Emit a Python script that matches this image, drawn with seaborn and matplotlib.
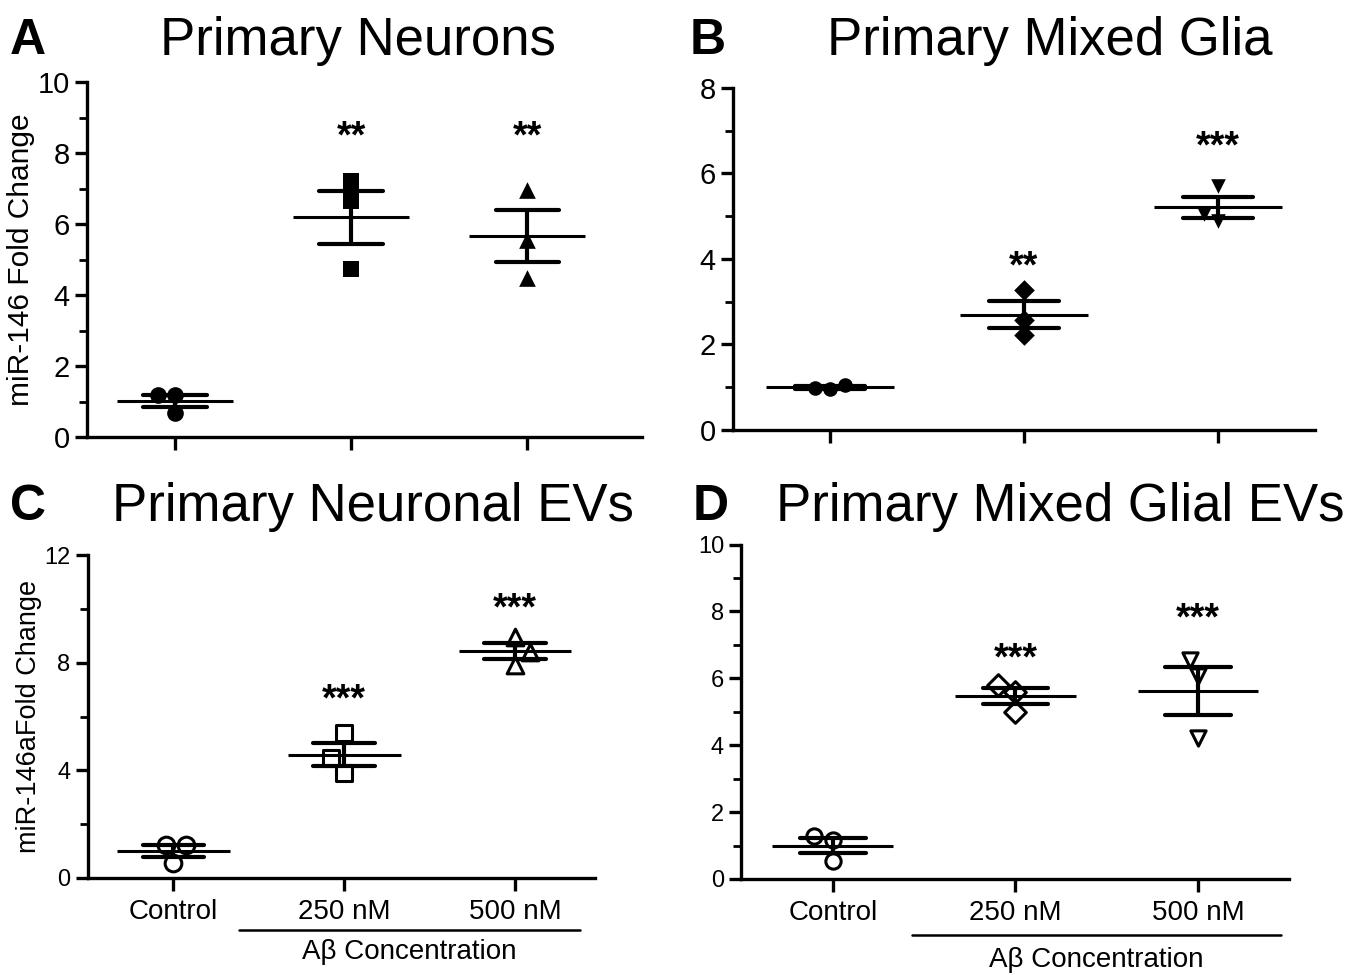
import numpy as np
import pandas as pd
import matplotlib
matplotlib.use("Agg")
import matplotlib.pyplot as plt
import matplotlib.transforms as mtransforms
from matplotlib.ticker import MultipleLocator
import seaborn as sns

sns.set_style("ticks")
plt.rcParams['font.family'] = ['Liberation Sans', 'DejaVu Sans']
plt.rcParams.update({"text.color": "black", "axes.labelcolor": "black",
                     "xtick.color": "black", "ytick.color": "black",
                     "axes.edgecolor": "black"})

groups = ["Control", "250 nM", "500 nM"]

# values (three replicates per group)
neuron_ctrl = [1.17, 1.17, 0.68]
neuron_250 = [7.20, 6.65, 4.73]
neuron_500 = [6.97, 5.55, 4.47]

glia_ctrl = [1.06, 0.95, 0.99]
glia_250 = [3.28, 2.58, 2.23]
glia_500 = [5.70, 4.88, 5.04]

nev_ctrl = [1.24, 1.24, 0.56]
nev_250 = [5.38, 4.46, 3.90]
nev_500 = [8.97, 8.42, 7.92]

gev_ctrl = [1.28, 1.18, 0.53]
gev_250 = [5.80, 5.60, 5.00]
gev_500 = [6.56, 6.06, 4.22]

stars_a = ["", "**", "**"]
stars_b = ["", "**", "***"]
stars_c = ["", "***", "***"]
stars_d = ["", "***", "***"]

star_y_a = [None, 8.45, 8.45]
star_y_b = [None, 3.8, 6.6]
star_y_c = [None, 6.6, 10.0]
star_y_d = [None, 6.55, 7.75]


def make_df(*vals):
    rows = []
    for g, v in zip(groups, vals):
        for x in v:
            rows.append({"group": g, "value": x})
    return pd.DataFrame(rows)


def panel(ax, df, markers, filled, ylim, major, minor, stars, star_y,
          ylabel, label_fs, tick_fs, xlabels, msize, xmax):
    ax.set_ylim(*ylim)
    # replicate points
    for g, m in zip(groups, markers):
        sub = df[df.group == g]
        if filled:
            sns.swarmplot(data=sub, x="group", y="value", order=groups, ax=ax,
                          marker=m, color="black", size=msize, linewidth=0,
                          zorder=2)
        else:
            sns.swarmplot(data=sub, x="group", y="value", order=groups, ax=ax,
                          marker=m, color="white", edgecolor="black",
                          size=msize, linewidth=2.2, zorder=2)
    # SEM whiskers
    sns.pointplot(data=df, x="group", y="value", order=groups, ax=ax,
                  errorbar="se", capsize=0.36, linestyle="none", marker="",
                  color="black", err_kws={"linewidth": 3.0, "zorder": 3})
    # mean lines
    means = df.groupby("group")["value"].mean().reindex(groups)
    ax.hlines(means.values, np.arange(3) - 0.33, np.arange(3) + 0.33,
              color="black", linewidth=2.2, zorder=3)
    for i, (s, y) in enumerate(zip(stars, star_y)):
        if s:
            ax.text(i, y, s, ha="center", va="center", fontsize=27,
                    fontweight="bold")
    ax.set_xlim(-0.5, xmax)
    ax.set_ylim(*ylim)
    ax.yaxis.set_major_locator(MultipleLocator(major))
    ax.yaxis.set_minor_locator(MultipleLocator(minor))
    sns.despine(ax=ax)
    for sp in ["left", "bottom"]:
        ax.spines[sp].set_linewidth(2.4)
    ax.tick_params(axis="both", which="major", width=2.4, length=9,
                   labelsize=tick_fs, color="black")
    ax.tick_params(axis="y", which="minor", width=2.0, length=6)
    ax.set_xlabel("")
    ax.set_ylabel(ylabel, fontsize=label_fs, labelpad=2)
    if xlabels:
        ax.tick_params(axis="x", labelsize=20, pad=6)
    else:
        ax.set_xticklabels([])


fig = plt.figure(figsize=(13.53, 9.75), dpi=100)

ax_a = fig.add_axes([0.0643, 0.5518, 0.410, 0.364])
ax_b = fig.add_axes([0.5418, 0.559, 0.430, 0.351])
ax_c = fig.add_axes([0.065, 0.0995, 0.375, 0.331])
ax_d = fig.add_axes([0.548, 0.0985, 0.405, 0.343])

panel(ax_a, make_df(neuron_ctrl, neuron_250, neuron_500), ["o", "s", "^"],
      True, (0, 10), 2, 1, stars_a, star_y_a, "miR-146 Fold Change", 21.5, 21,
      False, 12, 2.65)
panel(ax_b, make_df(glia_ctrl, glia_250, glia_500), ["o", "D", "v"],
      True, (0, 8), 2, 1, stars_b, star_y_b, "", 19, 21, False, 10.5, 2.5)
panel(ax_c, make_df(nev_ctrl, nev_250, nev_500), ["o", "s", "^"],
      False, (0, 12), 4, 2, stars_c, star_y_c, "miR-146aFold Change", 19.5, 17,
      True, 12, 2.47)
panel(ax_d, make_df(gev_ctrl, gev_250, gev_500), ["o", "D", "v"],
      False, (0, 10), 2, 1, stars_d, star_y_d, "", 19, 17, True, 11, 2.5)

# titles and panel letters
fig.text(0.2646, 0.958, "Primary Neurons", ha="center", va="center", fontsize=38)
fig.text(0.776, 0.958, "Primary Mixed Glia", ha="center", va="center", fontsize=38)
fig.text(0.2757, 0.480, "Primary Neuronal EVs", ha="center", va="center", fontsize=38)
fig.text(0.7834, 0.480, "Primary Mixed Glial EVs", ha="center", va="center", fontsize=38)
for x, y, s in [(0.0074, 0.958, "A"), (0.510, 0.958, "B"),
                (0.0074, 0.480, "C"), (0.512, 0.480, "D")]:
    fig.text(x, y, s, ha="left", va="center", fontsize=36, fontweight="bold")

# bracket under the treated groups
for ax, x0, x1, yl, yt in [(ax_c, 0.385, 2.38, -0.161, -0.229),
                           (ax_d, 0.434, 2.456, -0.168, -0.243)]:
    tr = mtransforms.blended_transform_factory(ax.transData, ax.transAxes)
    ax.plot([x0, x1], [yl, yl], color="black", linewidth=1.8,
            transform=tr, clip_on=False)
    ax.text((x0 + x1) / 2, yt, "A\u03b2 Concentration", transform=tr,
            ha="center", va="center", fontsize=20)

fig.savefig("out.png", dpi=100)
